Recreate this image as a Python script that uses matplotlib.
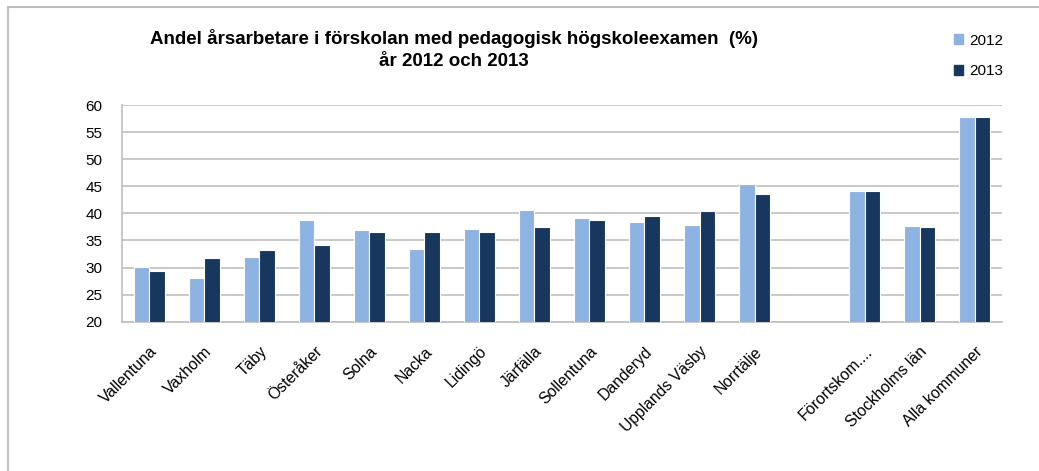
import matplotlib
matplotlib.use("Agg")
import matplotlib.pyplot as plt
import numpy as np
from matplotlib.lines import Line2D
from matplotlib.patches import Patch

plt.rcParams['font.family'] = ['Liberation Sans', 'DejaVu Sans']

# Data
categories = ["Vallentuna", "Vaxholm", "Täby", "Österåker", "Solna", "Nacka", "Lidingö",
              "Järfälla", "Sollentuna", "Danderyd", "Upplands Väsby", "Norrtälje",
              "Förortskom....", "Stockholms län", "Alla kommuner"]
values_2012 = [30.1, 28.0, 31.9, 38.8, 36.9, 33.4, 37.2, 40.6, 39.1, 38.4, 37.8, 45.5,
               44.1, 37.6, 57.8]
values_2013 = [29.4, 31.8, 33.3, 34.2, 36.5, 36.6, 36.6, 37.4, 38.7, 39.6, 40.4, 43.5,
               44.2, 37.5, 57.8]
series_names = ["2012", "2013"]
y_ticks = [20, 25, 30, 35, 40, 45, 50, 55, 60]

light_blue = "#8DB3E2"
dark_blue = "#17375E"

fig = plt.figure(figsize=(10.39, 4.71), dpi=100)
ax = fig.add_axes([0.1174, 0.317, 0.847, 0.460])

# empty slot between municipalities and the summary groups
pos = np.array([i if i < 12 else i + 1 for i in range(len(categories))], dtype=float) + 0.5
w = 0.28

ax.bar(pos - w / 2, values_2012, width=w, color=light_blue, edgecolor="white", linewidth=0.8, zorder=3)
ax.bar(pos + w / 2, values_2013, width=w, color=dark_blue, edgecolor="white", linewidth=0.8, zorder=3)

ax.set_xlim(0, 16)
ax.set_ylim(20, 60)
ax.set_yticks(y_ticks)
ax.set_yticklabels([str(t) for t in y_ticks], fontsize=11)
ax.set_xticks(pos)
ax.set_xticklabels(categories, rotation=45, ha="right", rotation_mode="anchor", fontsize=11.3)
ax.tick_params(axis="x", length=0, pad=16)
ax.tick_params(axis="y", length=0, pad=14)

ax.yaxis.grid(True, color="#BFBFBF", linewidth=1.2, zorder=0)
for s in ["top", "right"]:
    ax.spines[s].set_visible(False)
ax.spines["left"].set_color("#BFBFBF")
ax.spines["bottom"].set_color("#BFBFBF")
ax.spines["left"].set_linewidth(1.2)
ax.spines["bottom"].set_linewidth(1.2)

fig.text(0.437, 0.918, "Andel årsarbetare i förskolan med pedagogisk högskoleexamen  (%)",
         ha="center", va="center", fontsize=13.5, fontweight="bold")
fig.text(0.437, 0.869, "år 2012 och 2013", ha="center", va="center", fontsize=13.5, fontweight="bold")

handles = [Patch(color=light_blue), Patch(color=dark_blue)]
fig.legend(handles, series_names, loc="center left", bbox_to_anchor=(0.905, 0.881),
           frameon=False, fontsize=11, handlelength=0.6, handleheight=0.6,
           handletextpad=0.4, labelspacing=1.1)

# grey frame lines (left and top) as in the reference
fig.add_artist(Line2D([8 / 1039, 8 / 1039], [0, 1 - 7 / 471], color="#BFBFBF", linewidth=1.5,
                      transform=fig.transFigure))
fig.add_artist(Line2D([8 / 1039, 1], [1 - 7 / 471, 1 - 7 / 471], color="#BFBFBF", linewidth=1.5,
                      transform=fig.transFigure))

fig.savefig("out.png", dpi=100)
